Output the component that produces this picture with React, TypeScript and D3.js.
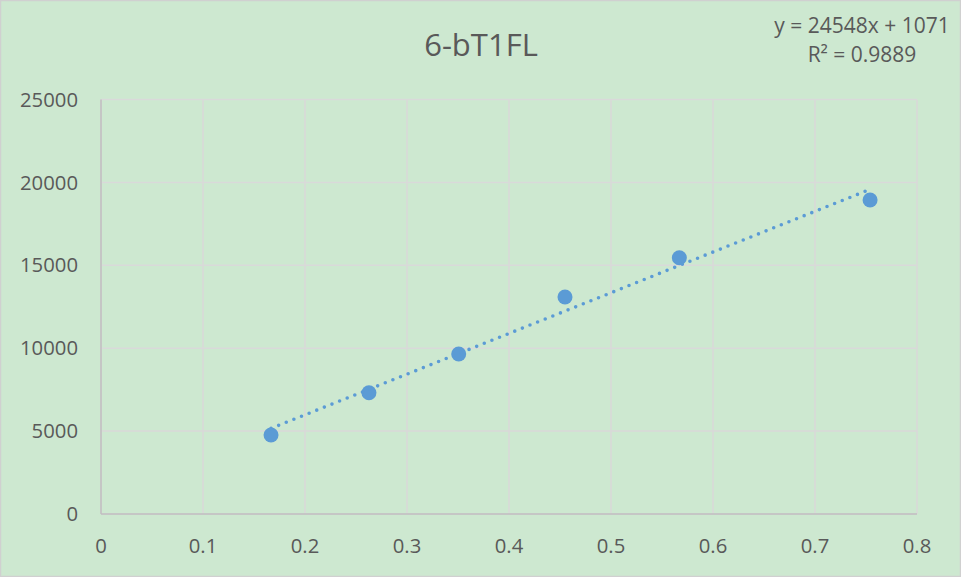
import React, { useEffect } from "react";
import * as d3 from "d3";

const xValues = [0.1667, 0.2627, 0.3507, 0.4549, 0.567, 0.754];
const yValues = [4765, 7316, 9650, 13088, 15458, 18939];
const xTicks = [0, 0.1, 0.2, 0.3, 0.4, 0.5, 0.6, 0.7, 0.8];
const yTicks = [0, 5000, 10000, 15000, 20000, 25000];
const trendSlope = 24548;
const trendIntercept = 1071;
const titleText = "6-bT1FL";
const equationText = "y = 24548x + 1071";
const r2Label = "R² = 0.9889";

const W = 961;
const H = 577;
const FONT = "'Open Sans', sans-serif";

export default function App() {
  useEffect(() => {
    document.body.style.margin = "0";
  }, []);

  const x = d3.scaleLinear().domain([0, 0.8]).range([101, 917]);
  const y = d3.scaleLinear().domain([0, 25000]).range([514, 99.5]);

  const points = xValues.map((v, i) => ({ x: v, y: yValues[i] }));
  const xMin = d3.min(xValues) as number;
  const xMax = d3.max(xValues) as number;
  const trend = [xMin, xMax].map((v) => ({ x: v, y: trendSlope * v + trendIntercept }));
  const line = d3
    .line<{ x: number; y: number }>()
    .x((d) => x(d.x))
    .y((d) => y(d.y));

  return (
    <svg width={W} height={H} style={{ display: "block" }} fontFamily={FONT}>
      <rect x={0.5} y={0.5} width={W - 1} height={H - 1} fill="#CDE8D0" stroke="#D0D0D0" strokeWidth={1.5} />
      {xTicks.map((t) => (
        <line key={"gx" + t} x1={x(t)} x2={x(t)} y1={y(25000)} y2={y(0)} stroke="#D9D9D9" strokeWidth={1.5} />
      ))}
      {yTicks.map((t) => (
        <line key={"gy" + t} x1={x(0)} x2={x(0.8)} y1={y(t)} y2={y(t)} stroke="#D9D9D9" strokeWidth={1.5} />
      ))}
      <line x1={x(0)} x2={x(0.8)} y1={y(0)} y2={y(0)} stroke="#BFBFBF" strokeWidth={1.5} />
      <line x1={x(0)} x2={x(0)} y1={y(0)} y2={y(25000)} stroke="#BFBFBF" strokeWidth={1.5} />
      {yTicks.map((t) => (
        <text key={"ly" + t} x={78} y={y(t)} dy="0.35em" textAnchor="end" fontSize={20.3} fill="#595959">
          {t}
        </text>
      ))}
      {xTicks.map((t) => (
        <text key={"lx" + t} x={x(t)} y={553} textAnchor="middle" fontSize={20.3} fill="#595959">
          {t}
        </text>
      ))}
      <text x={481} y={56} textAnchor="middle" fontSize={31} fill="#595959">
        {titleText}
      </text>
      <text x={862} y={33} textAnchor="middle" fontSize={21} fill="#595959">
        {equationText}
      </text>
      <text x={862} y={62} textAnchor="middle" fontSize={21} fill="#595959">
        {r2Label}
      </text>
      {points.map((p, i) => (
        <circle key={"p" + i} cx={x(p.x)} cy={y(p.y)} r={7.5} fill="#5B9BD5" />
      ))}
      <path
        d={line(trend) || ""}
        fill="none"
        stroke="#5B9BD5"
        strokeWidth={3.6}
        strokeLinecap="round"
        strokeDasharray="0 8.2"
      />
    </svg>
  );
}
